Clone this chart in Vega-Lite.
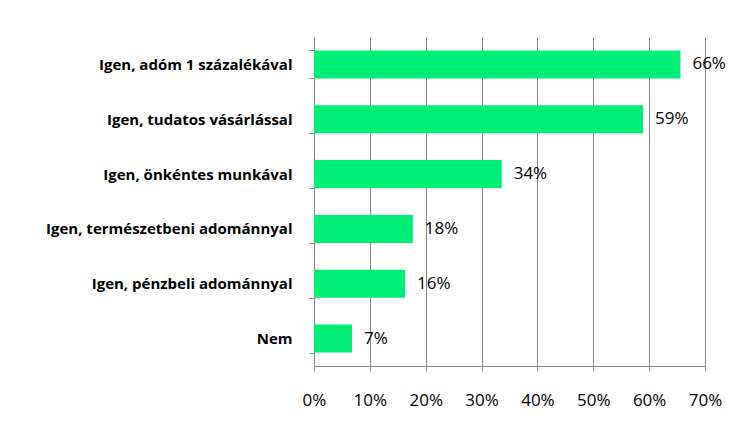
{
  "$schema": "https://vega.github.io/schema/vega-lite/v6.json",
  "autosize": "none",
  "width": 391,
  "height": 329,
  "padding": {"left": 314, "top": 37, "right": 36, "bottom": 71},
  "background": "white",
  "config": {"view": {"stroke": null}, "font": "Open Sans"},
  "data": {"values": [
    {"cat": "Igen, adóm 1 százalékával", "v": 65.6, "label": "66%"},
    {"cat": "Igen, tudatos vásárlással", "v": 58.9, "label": "59%"},
    {"cat": "Igen, önkéntes munkával", "v": 33.6, "label": "34%"},
    {"cat": "Igen, természetbeni adománnyal", "v": 17.7, "label": "18%"},
    {"cat": "Igen, pénzbeli adománnyal", "v": 16.3, "label": "16%"},
    {"cat": "Nem", "v": 6.8, "label": "7%"}
  ]},
  "encoding": {
    "y": {"field": "cat", "type": "nominal", "sort": null,
      "scale": {"paddingInner": 0.49, "paddingOuter": 0.245},
      "axis": {"title": null, "domainColor": "#868686", "tickColor": "#868686", "tickSize": 5, "tickBand": "extent",
        "labelFont": "Open Sans", "labelFontWeight": "bold", "labelFontSize": 15, "labelColor": "#000000", "labelPadding": 17, "labelLimit": 400}},
    "x": {"field": "v", "type": "quantitative",
      "scale": {"domain": [0, 70], "nice": false},
      "axis": {"title": null, "values": [0, 10, 20, 30, 40, 50, 60, 70], "labelExpr": "datum.value + '%'",
        "grid": true, "gridColor": "#868686", "domainColor": "#868686", "tickColor": "#868686", "tickSize": 5,
        "labelFlush": false, "labelOverlap": false,
        "labelFontSize": 17, "labelColor": "#000000", "labelPadding": 21, "labelFont": "Open Sans"}}
  },
  "layer": [
    {"mark": {"type": "bar", "color": "#00EE76"}},
    {"mark": {"type": "text", "align": "left", "dx": 12, "fontSize": 17, "color": "#000000", "font": "Open Sans"},
     "encoding": {"text": {"field": "label"}}}
  ]
}
